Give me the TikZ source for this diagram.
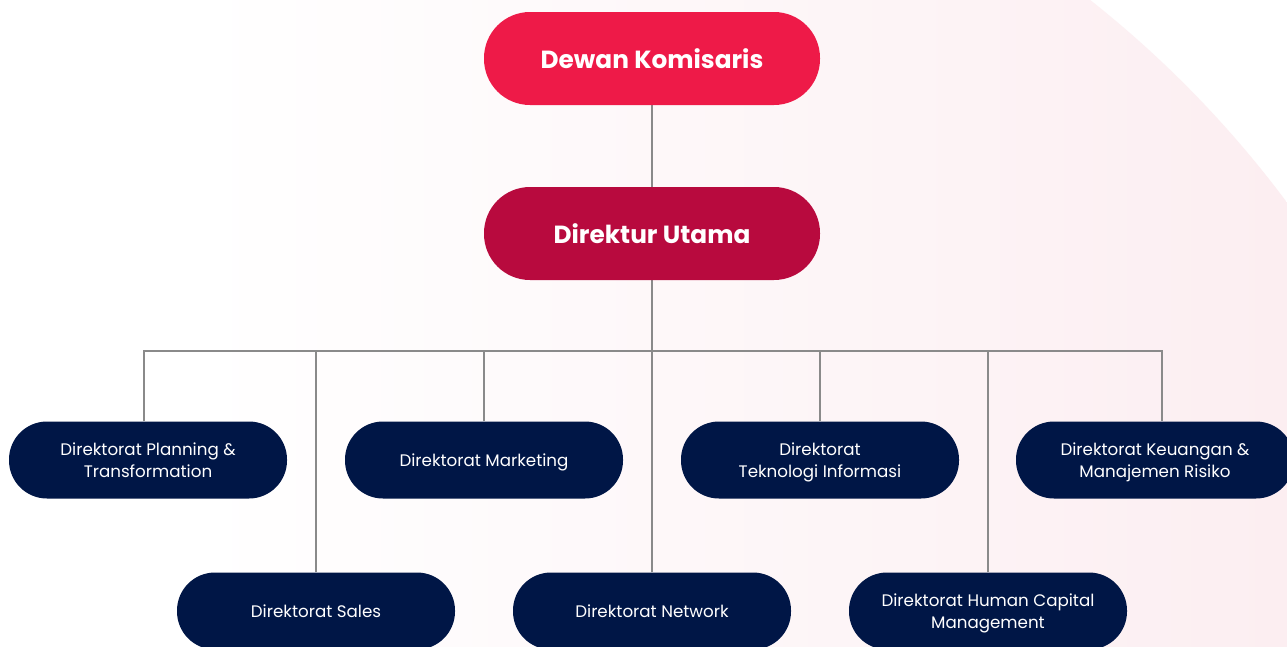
\documentclass[tikz,border=0pt]{standalone}
\usepackage{fontspec}
\setmainfont{Poppins}[BoldFont={Poppins Bold}]
\usetikzlibrary{backgrounds}
\definecolor{redA}{HTML}{EE1A48}
\definecolor{redB}{HTML}{B80A3E}
\definecolor{navy}{HTML}{001646}
\definecolor{linegray}{HTML}{8A8A8A}
\definecolor{bgpink}{HTML}{FCEEF1}
\tikzset{
  topbox/.style={rounded corners=46pt, minimum width=336pt, minimum height=93pt, inner sep=0pt, text=white, font=\bfseries\fontsize{24.8}{28}\selectfont, align=center},
  dirbox/.style={fill=navy, rounded corners=38pt, minimum width=278pt, minimum height=77pt, inner sep=0pt, text depth=0pt, text=white, font=\fontsize{16.7}{22}\selectfont, align=center},
  conn/.style={draw=linegray, line width=1.1pt}
}
\begin{document}
\begin{tikzpicture}[x=1pt,y=-1pt]
\useasboundingbox (0,0) rectangle (1287,646);
\clip (0,0) rectangle (1287,646);
\node[topbox, fill=redA] (dk) at (652,58.5) {Dewan Komisaris};
\node[topbox, fill=redB] (du) at (652,233.5) {Direktur Utama};
\node[dirbox] (plan) at (148,460) {Direktorat Planning \&\\Transformation};
\node[dirbox] (mkt) at (484,460) {Direktorat Marketing};
\node[dirbox] (ti) at (820,460) {Direktorat\\Teknologi Informasi};
\node[dirbox] (keu) at (1155,460) {Direktorat Keuangan \&\\Manajemen Risiko};
\node[dirbox] (sales) at (316,611) {Direktorat Sales};
\node[dirbox] (net) at (652,611) {Direktorat Network};
\node[dirbox] (hc) at (988,611) {Direktorat Human Capital\\Management};
\coordinate (bus) at (652,351);
\begin{scope}[on background layer]
  \fill[white] (0,0) rectangle (1287,646);
  \begin{scope}
    \clip (422,846) circle (1078pt);
    \shade[left color=white, right color=bgpink] (200,0) rectangle (1287,646);
  \end{scope}
  \draw[conn] (dk.south) -- (du.north);
  \draw[conn] (du.south) -- (bus);
  \draw[conn] ([xshift=-4pt]plan.north) -- ([xshift=-4pt]plan.north |- bus) -- ([xshift=7pt]keu.north |- bus) -- ([xshift=7pt]keu.north);
  \draw[conn] (mkt.north) -- (mkt.north |- bus);
  \draw[conn] (ti.north) -- (ti.north |- bus);
  \draw[conn] (sales.north) -- (sales.north |- bus);
  \draw[conn] (net.north) -- (net.north |- bus);
  \draw[conn] (hc.north) -- (hc.north |- bus);
\end{scope}
\end{tikzpicture}
\end{document}
